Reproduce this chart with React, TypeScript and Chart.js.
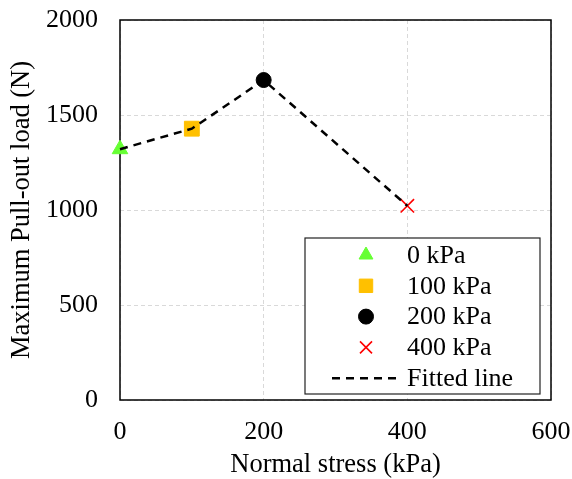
import React, { useEffect, useRef } from "react";
import { Chart, registerables } from "chart.js";

Chart.register(...registerables);

const stress = [0, 100, 200, 400];
const loads = [1320, 1428, 1684, 1022];
const fittedLoads = [1320, 1428, 1684, 1022];
const seriesLabels = ["0 kPa", "100 kPa", "200 kPa", "400 kPa"];
const fittedLabel = "Fitted line";
const xTitle = "Normal stress (kPa)";
const yTitle = "Maximum Pull-out load (N)";

const FONT = "'Liberation Serif', 'Times New Roman', serif";

const markerStyles = [
  { pointStyle: "triangle", radius: 9, color: "#66ff33", border: "#66ff33", bw: 1 },
  { pointStyle: "rect", radius: 10.5, color: "#ffc000", border: "#ffc000", bw: 1 },
  { pointStyle: "circle", radius: 7.5, color: "#000000", border: "#000000", bw: 1 },
  { pointStyle: "crossRot", radius: 9.5, color: "#ff0000", border: "#ff0000", bw: 1.6 },
];

function drawMarker(ctx: CanvasRenderingContext2D, style: string, x: number, y: number, r: number, fill: string, stroke: string, bw: number) {
  ctx.save();
  ctx.fillStyle = fill;
  ctx.strokeStyle = stroke;
  ctx.lineWidth = bw;
  ctx.beginPath();
  if (style === "triangle") {
    for (let i = 0; i < 3; i++) {
      const a = -Math.PI / 2 + (i * 2 * Math.PI) / 3;
      const px = x + Math.cos(a) * r;
      const py = y + Math.sin(a) * r;
      if (i === 0) ctx.moveTo(px, py);
      else ctx.lineTo(px, py);
    }
    ctx.closePath();
    ctx.fill();
    ctx.stroke();
  } else if (style === "rect") {
    const s = r * Math.SQRT1_2;
    ctx.rect(x - s, y - s, 2 * s, 2 * s);
    ctx.fill();
    ctx.stroke();
  } else if (style === "circle") {
    ctx.arc(x, y, r, 0, Math.PI * 2);
    ctx.fill();
    ctx.stroke();
  } else if (style === "crossRot") {
    const o = r * Math.SQRT1_2;
    ctx.moveTo(x - o, y - o);
    ctx.lineTo(x + o, y + o);
    ctx.moveTo(x - o, y + o);
    ctx.lineTo(x + o, y - o);
    ctx.stroke();
  }
  ctx.restore();
}

const framePlugin = {
  id: "frame",
  beforeDatasetsDraw(chart: any) {
    const { ctx, chartArea } = chart;
    ctx.save();
    ctx.strokeStyle = "#000";
    ctx.lineWidth = 1.5;
    ctx.strokeRect(chartArea.left, chartArea.top, chartArea.right - chartArea.left, chartArea.bottom - chartArea.top);
    ctx.restore();
  },
};

const legendPlugin = {
  id: "insideLegend",
  afterDraw(chart: any) {
    const { ctx } = chart;
    const bx = 305, by = 238, bw = 235, bh = 156;
    ctx.save();
    ctx.fillStyle = "#fff";
    ctx.fillRect(bx, by, bw, bh);
    ctx.strokeStyle = "#222";
    ctx.lineWidth = 1.2;
    ctx.strokeRect(bx, by, bw, bh);
    ctx.font = `26px ${FONT}`;
    ctx.fillStyle = "#000";
    ctx.textBaseline = "middle";
    ctx.textAlign = "left";
    const rowH = 30.8;
    const y0 = by + 17;
    const mx = 366;
    const tx = 407;
    seriesLabels.forEach((lab, i) => {
      const m = markerStyles[i];
      const y = y0 + i * rowH;
      const r = m.pointStyle === "rect" ? 9.5 : m.pointStyle === "triangle" ? 8 : m.pointStyle === "crossRot" ? 8.5 : 7.5;
      drawMarker(ctx, m.pointStyle, mx, y, r, m.color, m.border, m.bw);
      ctx.fillStyle = "#000";
      ctx.fillText(lab, tx, y + 1);
    });
    const yl = y0 + 4 * rowH;
    ctx.strokeStyle = "#000";
    ctx.lineWidth = 2.5;
    ctx.setLineDash([8, 6]);
    ctx.beginPath();
    ctx.moveTo(332, yl);
    ctx.lineTo(398, yl);
    ctx.stroke();
    ctx.setLineDash([]);
    ctx.fillText(fittedLabel, tx, yl + 1);
    ctx.restore();
  },
};

export default function App() {
  const ref = useRef<HTMLCanvasElement | null>(null);
  useEffect(() => {
    document.body.style.margin = "0";
    if (!ref.current) return;
    const datasets: any[] = [
      {
        label: fittedLabel,
        data: stress.map((x, i) => ({ x, y: fittedLoads[i] })),
        showLine: true,
        borderColor: "#000",
        borderWidth: 2.5,
        borderDash: [8, 6],
        pointRadius: 0,
        fill: false,
        clip: false,
      },
    ];
    seriesLabels.forEach((lab, i) => {
      const m = markerStyles[i];
      datasets.push({
        label: lab,
        data: [{ x: stress[i], y: loads[i] }],
        pointStyle: m.pointStyle,
        pointRadius: m.radius,
        backgroundColor: m.color,
        borderColor: m.border,
        borderWidth: m.bw,
        showLine: false,
        clip: false,
      });
    });
    const chart = new Chart(ref.current, {
      type: "scatter",
      data: { datasets },
      plugins: [framePlugin, legendPlugin],
      options: {
        animation: false,
        responsive: false,
        layout: { padding: { top: 20, right: 21, left: 0, bottom: 0 } },
        plugins: { legend: { display: false }, tooltip: { enabled: false } },
        scales: {
          x: {
            type: "linear",
            min: 0,
            max: 600,
            afterFit: (s: any) => { s.height = 79; s.paddingLeft = 0; s.paddingRight = 0; },
            ticks: { stepSize: 200, color: "#000", font: { family: FONT, size: 26 }, padding: 17, callback: (v: any) => String(v) },
            grid: { color: "#d9d9d9", drawTicks: false, lineWidth: 1 },
            border: { display: false, dash: [4, 3] },
            title: { display: true, text: xTitle, color: "#000", font: { family: FONT, size: 26.5, lineHeight: 1.05 }, padding: { top: 0, bottom: 0 } },
          },
          y: {
            type: "linear",
            min: 0,
            max: 2000,
            afterFit: (s: any) => { s.width = 120; s.paddingTop = 0; s.paddingBottom = 0; },
            ticks: { stepSize: 500, color: "#000", font: { family: FONT, size: 26 }, padding: 22, callback: (v: any) => String(v) },
            grid: { color: "#d9d9d9", drawTicks: false, lineWidth: 1 },
            border: { display: false, dash: [4, 3] },
            title: { display: true, text: yTitle, color: "#000", font: { family: FONT, size: 26.5 }, padding: { top: 6, bottom: 0 } },
          },
        },
      } as any,
    });
    return () => chart.destroy();
  }, []);
  return (
    <div style={{ width: 572, height: 479 }}>
      <canvas ref={ref} width={572} height={479} />
    </div>
  );
}
